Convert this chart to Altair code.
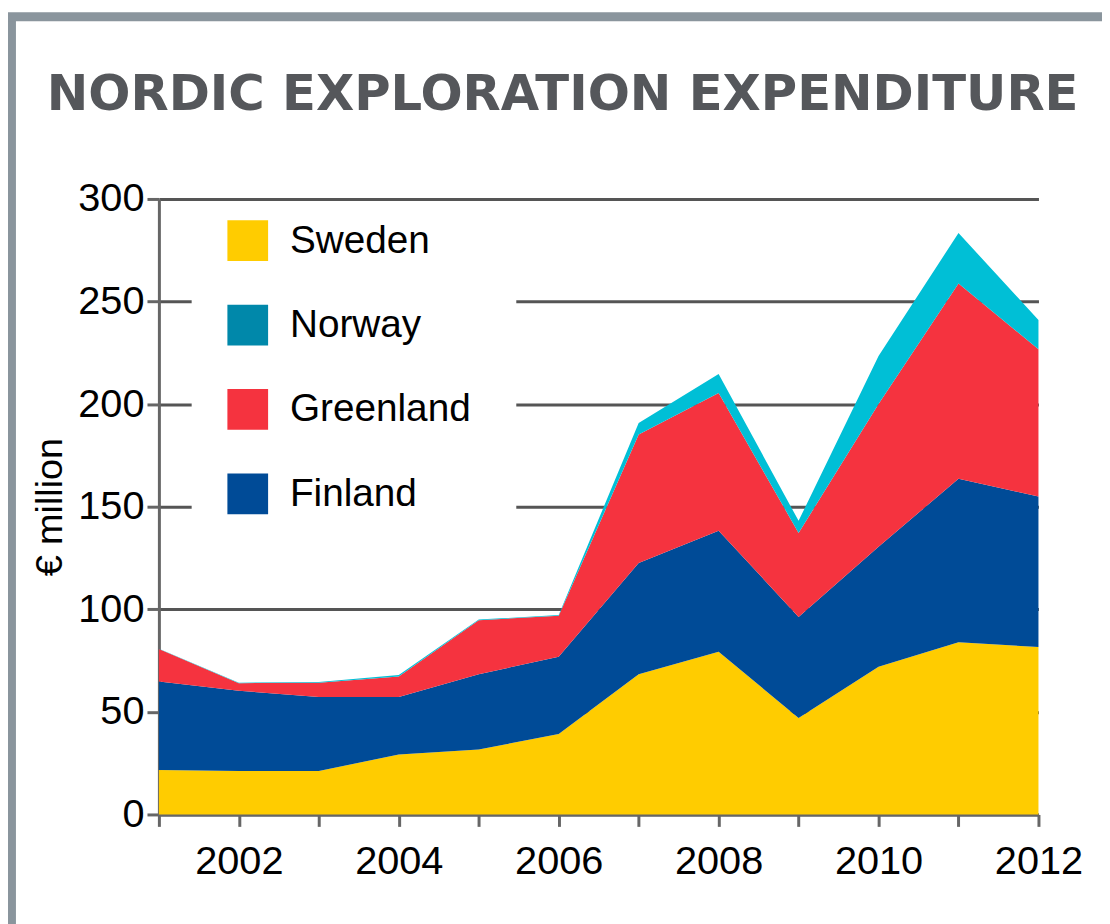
import altair as alt
import pandas as pd

# ---- data (€ million) ----
years = [2001, 2002, 2003, 2004, 2005, 2006, 2007, 2008, 2009, 2010, 2011, 2012]
sweden = [21.7, 21.2, 21.2, 29.2, 31.7, 39.2, 68.3, 79.3, 47.0, 72.0, 83.9, 81.6]
finland = [43.1, 39.1, 36.0, 28.0, 36.6, 37.7, 54.2, 59.0, 49.3, 58.5, 79.7, 73.4]
greenland = [15.8, 3.7, 7.0, 10.0, 26.4, 19.9, 62.7, 67.1, 40.9, 69.5, 95.2, 71.7]
norway = [0.2, 0.2, 0.4, 0.8, 0.3, 0.4, 5.6, 9.3, 5.9, 23.5, 24.6, 14.3]

legend_order = ["Sweden", "Norway", "Greenland", "Finland"]
stack_order = ["Sweden", "Finland", "Greenland", "Norway"]
area_colors = ["#FFCC00", "#00BFD6", "#F5333F", "#004B97"]
legend_colors = ["#FFCC00", "#0088AA", "#F5333F", "#004B97"]
y_ticks = [0, 50, 100, 150, 200, 250, 300]
x_ticks = years
title_text = "NORDIC EXPLORATION EXPENDITURE"
y_title = "€ million"

series = {"Sweden": sweden, "Finland": finland, "Greenland": greenland, "Norway": norway}
rows = []
for name, vals in series.items():
    for yr, v in zip(years, vals):
        rows.append({"year": yr, "country": name, "value": v,
                     "order": stack_order.index(name)})
df = pd.DataFrame(rows)
one = pd.DataFrame({"k": [0]})

FONT = "Liberation Sans, Arial, sans-serif"

W, H = 886, 620
PAD_L, PAD_T = 152, 189
PAD_R = 1102 - PAD_L - W
PAD_B = 916 - PAD_T - H

areas = alt.Chart(df).mark_area(opacity=1).encode(
    x=alt.X("year:Q",
            scale=alt.Scale(domain=[2001, 2012], nice=False, zero=False),
            axis=alt.Axis(values=x_ticks, format="d", title=None, grid=False,
                          labelExpr="datum.value % 2 == 0 ? datum.label : ''",
                          labelPadding=15, labelFlush=False, labelOverlap=False)),
    y=alt.Y("value:Q", stack="zero",
            scale=alt.Scale(domain=[0, 300], nice=False),
            axis=alt.Axis(values=y_ticks, title=y_title, grid=True,
                          gridColor="#555555", gridWidth=3,
                          labelPadding=3, titlePadding=8,
                          titleFont=FONT, titleFontSize=38,
                          titleFontWeight="normal", titleColor="black")),
    color=alt.Color("country:N",
                    scale=alt.Scale(domain=legend_order, range=area_colors),
                    legend=None),
    order=alt.Order("order:Q", sort="ascending"),
)

# white panel behind the legend, hiding the gridlines as in the original
legend_bg = alt.Chart(one).mark_rect(color="white").encode(
    x=alt.value(33), x2=alt.value(360), y=alt.value(7), y2=alt.value(350))

legend_layer = alt.Chart(df).transform_filter("datum.value < 0").mark_square(
    opacity=1, filled=True
).encode(
    color=alt.Color("country:N",
                    scale=alt.Scale(domain=legend_order, range=legend_colors),
                    legend=alt.Legend(orient="none", legendX=55, legendY=7.5,
                                      title=None, symbolType="square",
                                      symbolSize=1681, symbolStrokeWidth=0,
                                      symbolOpacity=1, labelFont=FONT,
                                      labelFontSize=39, labelColor="black",
                                      labelOffset=22, rowPadding=44,
                                      padding=14, labelLimit=400)),
)

frame_left = alt.Chart(one).mark_rule(color="#8A959D", strokeWidth=8).encode(
    x=alt.value(-148), y=alt.value(-187), y2=alt.value(760))
frame_top = alt.Chart(one).mark_rule(color="#8A959D", strokeWidth=9).encode(
    x=alt.value(-152), x2=alt.value(1000), y=alt.value(-183.5))

title = alt.Chart(one).mark_text(
    text=title_text, font="DejaVu Sans", fontSize=50, fontWeight="bold",
    color="#55575B", align="left", baseline="alphabetic"
).encode(x=alt.value(-113), y=alt.value(-90))

chart = alt.layer(frame_left, frame_top, title, areas, legend_bg, legend_layer).resolve_scale(
    color="independent"
).properties(
    width=W, height=H,
    background="white",
    autosize=alt.AutoSizeParams(type="none"),
    padding={"left": PAD_L, "top": PAD_T, "right": PAD_R, "bottom": PAD_B},
).configure_view(stroke=None).configure_axis(
    domainColor="#666666", domainWidth=3,
    tickColor="#666666", tickWidth=3, tickSize=12,
    labelFont=FONT, labelFontSize=40, labelColor="black",
)

chart.save("out.html", embed_options={"renderer": "svg", "actions": False})
